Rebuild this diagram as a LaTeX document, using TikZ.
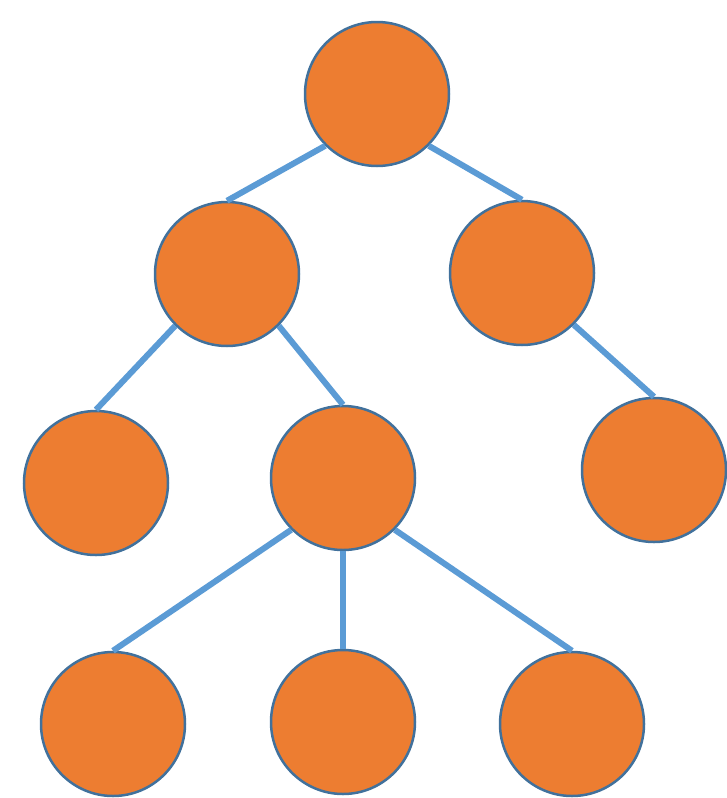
\documentclass[tikz,border=0pt]{standalone}
\definecolor{nodefill}{HTML}{ED7D31}
\definecolor{nodeline}{HTML}{41719C}
\definecolor{edgecol}{HTML}{5B9BD5}
\begin{document}
\begin{tikzpicture}[x=1pt,y=-1pt,
  treenode/.style={circle,fill=nodefill,draw=nodeline,line width=2.5pt,minimum size=144pt,inner sep=0pt},
  edge/.style={draw=edgecol,line width=6pt}]
\useasboundingbox (0,0) rectangle (726,798);
\node[treenode] (root) at (377,94) {};
\node[treenode] (l) at (227,274) {};
\node[treenode] (r) at (522,273) {};
\node[treenode] (ll) at (96,483) {};
\node[treenode] (lm) at (343,478) {};
\node[treenode] (rr) at (654,470) {};
\node[treenode] (b1) at (113,724) {};
\node[treenode] (b2) at (343,722) {};
\node[treenode] (b3) at (572,724) {};
\begin{scope}[on background layer/.style={}]
\end{scope}
\draw[edge] (root.225) -- (l.north);
\draw[edge] (root.-45) -- (r.north);
\draw[edge] (l.225) -- (ll.north);
\draw[edge] (l.-45) -- (lm.north);
\draw[edge] (r.-45) -- (rr.north);
\draw[edge] (lm.225) -- (b1.north);
\draw[edge] (lm.south) -- (b2.north);
\draw[edge] (lm.-45) -- (b3.north);
\end{tikzpicture}
\end{document}
